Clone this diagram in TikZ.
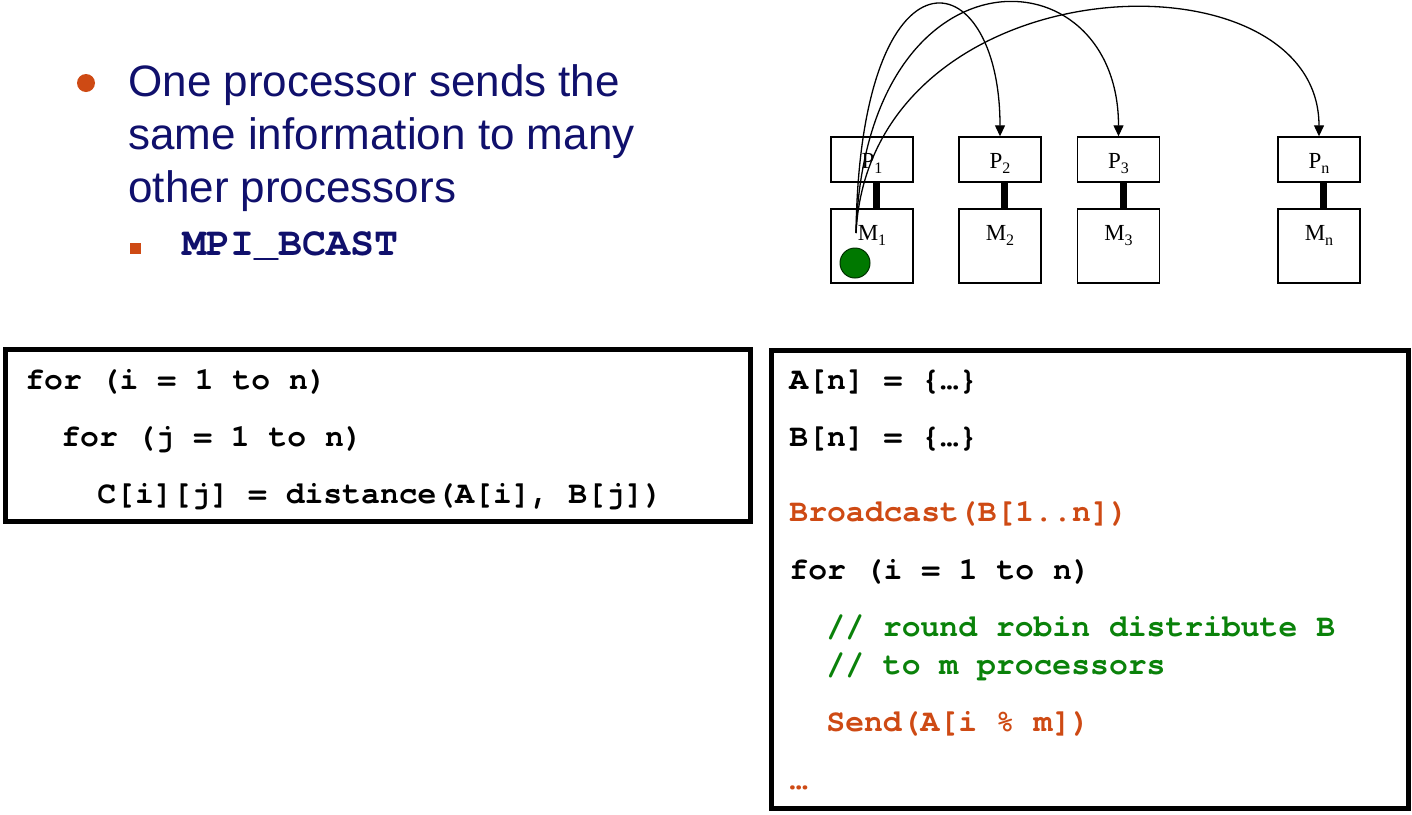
\documentclass[tikz,border=0pt]{standalone}
\usepackage{fontspec}
\setmainfont{Liberation Serif}
\setsansfont{Liberation Sans}
\setmonofont{TeX Gyre Cursor}
\usetikzlibrary{arrows.meta}

\definecolor{navy}{RGB}{16,16,108}
\definecolor{rust}{RGB}{206,74,20}
\definecolor{codegreen}{RGB}{10,130,10}
\definecolor{dotgreen}{RGB}{0,120,0}

\newcommand{\codefont}{\ttfamily\bfseries\fontsize{15.7}{18}\selectfont}
\newcommand{\labfont}{\rmfamily\fontsize{11.5}{13}\selectfont}
\newcommand{\lowsub}[1]{\raisebox{-2.5pt}{\fontsize{8}{8}\selectfont #1}}

\begin{document}
\begin{tikzpicture}[x=0.5pt,y=-0.5pt,>={Triangle[length=5.5pt,width=5pt]},
  txt/.style={anchor=base west,inner sep=0pt},
  codeline/.style={txt,font=\codefont},
  lab/.style={anchor=base,inner sep=0pt,font=\labfont},
  pbox/.style={draw,line width=0.7pt,minimum width=41pt,minimum height=22.5pt,inner sep=0pt},
  mbox/.style={draw,line width=0.7pt,minimum width=41pt,minimum height=37pt,inner sep=0pt},
  frame/.style={line width=2.5pt}]
  \useasboundingbox (0,0) rectangle (1412,814);

  \fill[rust] (86,83) circle (9);
  \node[txt,font=\sffamily\fontsize{22}{26}\selectfont,text=navy] (l1) at (128,96) {One processor sends the};
  \node[txt,font=\sffamily\fontsize{22}{26}\selectfont,text=navy] (l2) at (128,149) {same information to many};
  \node[txt,font=\sffamily\fontsize{22}{26}\selectfont,text=navy] (l3) at (128,202) {other processors};
  \fill[rust] (130,243) rectangle (141,254);
  \node[txt,font=\ttfamily\bfseries\fontsize{20}{24}\selectfont,text=navy] (mpi) at (182,255) {MPI\_BCAST};

  \foreach \n/\x in {1/872,2/1000,3/1118.5,n/1319} {
    \node[pbox] (p\n) at (\x,159.5) {};
    \node[mbox] (m\n) at (\x,246) {};
    \node[lab] (pl\n) at (\x,168) {P\lowsub{\n}};
    \node[lab] (ml\n) at (\x,240) {M\lowsub{\n}};
    \draw[line width=3.5pt] ([xshift=2.25pt]p\n.south) -- ([xshift=2.25pt]m\n.north);
  }

  \filldraw[fill=dotgreen,draw=black!60!dotgreen,line width=0.5pt] (855,263) circle (15);
  \coordinate (src) at (856,233);
  \draw[->,line width=0.65pt] (src) .. controls +(4,-298) and +(0,-179) .. (p2.north);
  \draw[->,line width=0.65pt] (src) .. controls +(10,-293) and +(0,-187) .. (p3.north);
  \draw[->,line width=0.65pt] (src) .. controls +(14,-273) and +(0,-191) .. (pn.north);

  \draw[frame] (5.5,349.5) rectangle (750,521);
  \node[codeline] (f1) at (25,389) {for (i = 1 to n)};
  \node[codeline] (f2) at (61,446) {for (j = 1 to n)};
  \node[codeline] (f3) at (97,503) {C[i][j] = distance(A[i], B[j])};

  \draw[frame] (771.5,350) rectangle (1408,808.5);
  \node[codeline] (a) at (789,389) {A[n] = \{…\}};
  \node[codeline] (b) at (789,446) {B[n] = \{…\}};
  \node[codeline,text=rust] (bc) at (789,521) {Broadcast(B[1..n])};
  \node[codeline] (fi) at (789,579) {for (i = 1 to n)};
  \node[codeline,text=codegreen] (c1) at (826,636) {// round robin distribute B};
  \node[codeline,text=codegreen] (c2) at (826,674) {// to m processors};
  \node[codeline,text=rust] (sd) at (826,731) {Send(A[i \% m])};
  \node[codeline,text=rust] (el) at (789,789) {…};
\end{tikzpicture}
\end{document}
